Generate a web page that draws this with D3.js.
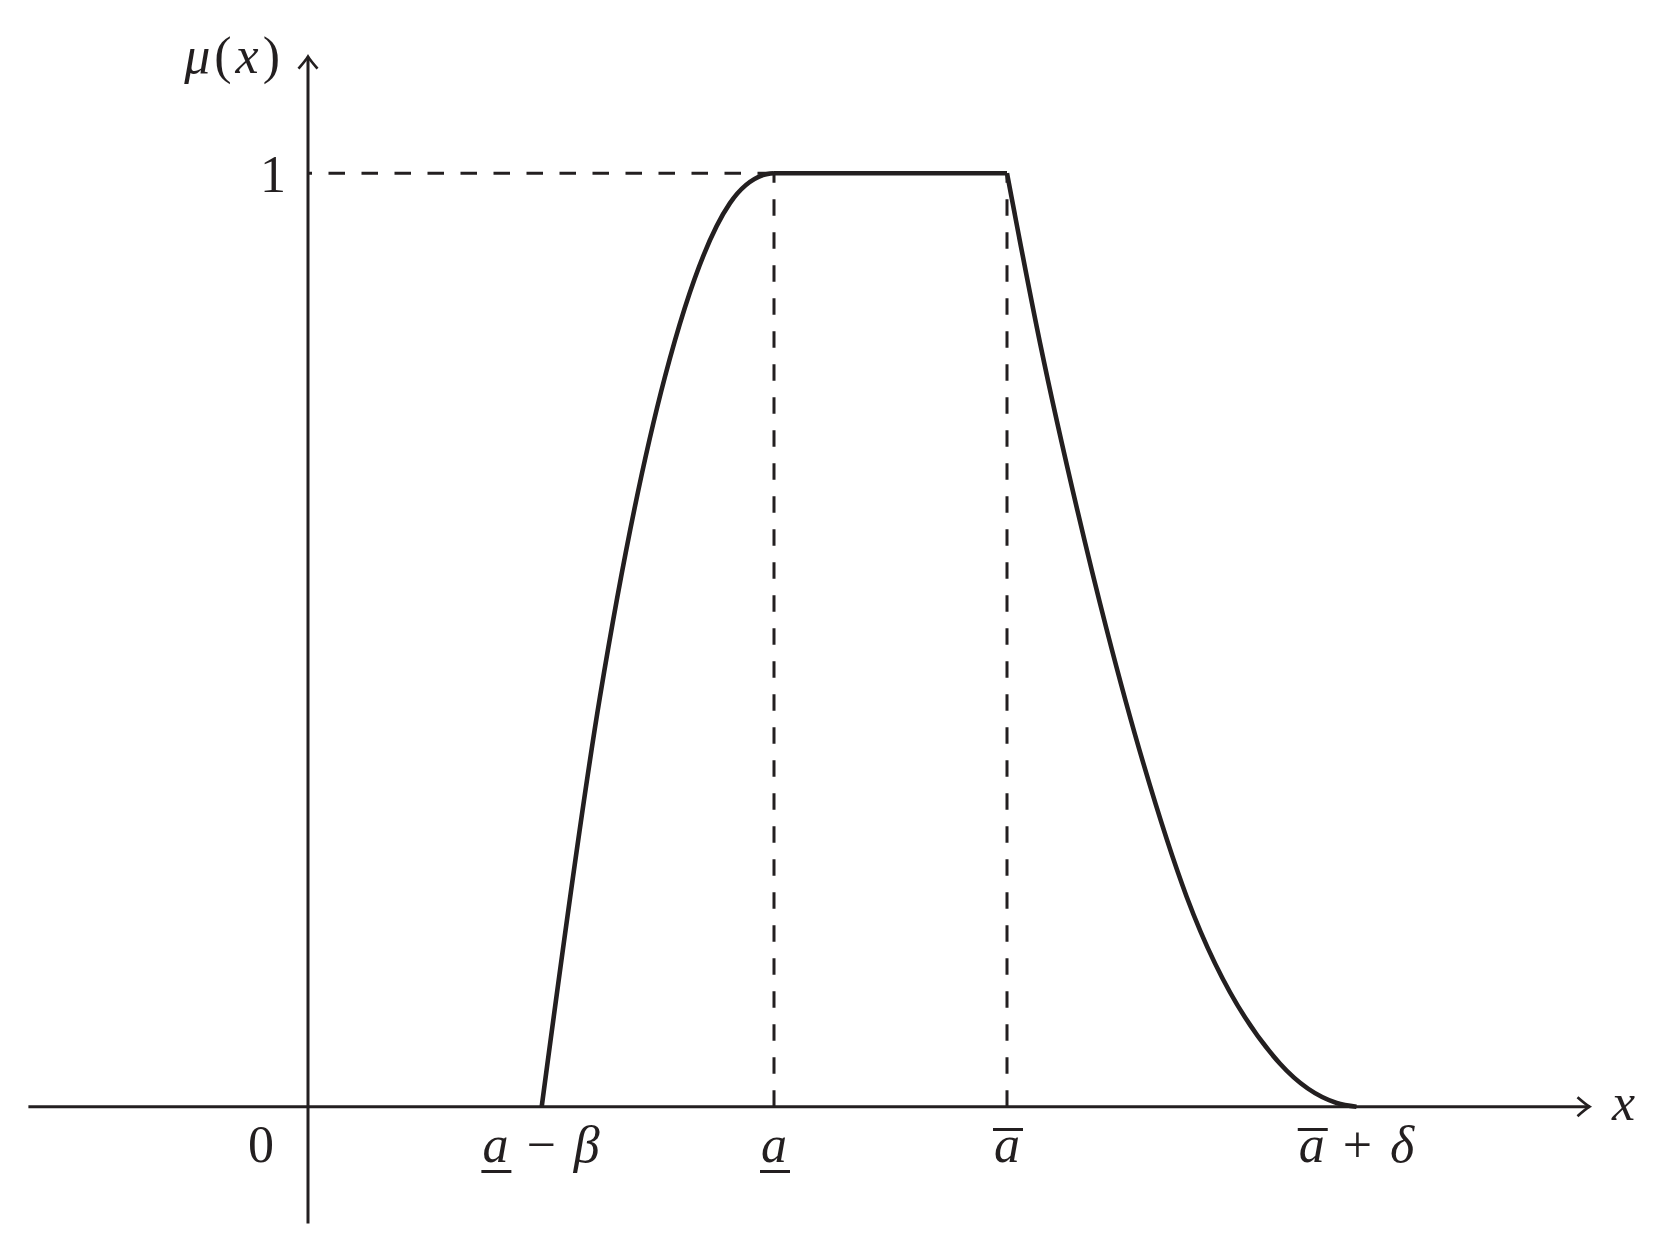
<!DOCTYPE html>
<html>
<head>
<meta charset="utf-8">
<script src="https://cdn.jsdelivr.net/npm/d3@7"></script>
<style>
  body { margin: 0; background: #fff; }
  svg { display: block; }
  text { font-family: "Liberation Serif", "DejaVu Serif", serif; fill: #231f20; }
</style>
</head>
<body>
<div class="graph"></div>
<script>
// values (x in units of the tick spacing, mu in [0,1])
const riseX  = [1.003, 1.253, 1.532, 1.811, 1.953, 2.000];
const riseMu = [0.000, 0.439, 0.782, 0.968, 0.998, 1.000];
const flatX  = [2.00, 3.00];
const flatMu = [1.000, 1.000];
const fallX  = [3.000, 3.142, 3.302, 3.428, 3.585, 3.771, 4.172, 4.415, 4.500];
const fallMu = [1.000, 0.818, 0.639, 0.511, 0.368, 0.225, 0.046, 0.004, 0.000];

const xTickPos  = [1, 2, 3, 4.5];
const xTickText = ["a − β", "a", "a", "a + δ"];
const xTickBar  = ["under", "under", "over", "over"];
const dashX     = [2, 3];          // dashed drop lines
const yTickText = ["0", "1"];

const width = 1665, height = 1260;
const ink = "#231f20";

let svg = d3.select(".graph")
  .append("svg")
  .attr("width", width)
  .attr("height", height);

let x = d3.scaleLinear().domain([-1.2, 5.5]).range([28.4, 1589.5]);
let y = d3.scaleLinear().domain([0, 1]).range([1106.7, 173.3]);

// dashed guides
svg.append("line")
  .attr("x1", x(2)).attr("y1", y(1))
  .attr("x2", x(0)).attr("y2", y(1))
  .attr("stroke", ink).attr("stroke-width", 3)
  .attr("stroke-dasharray", "16.5,16.5");

svg.selectAll(".drop")
  .data(dashX)
  .enter().append("line")
  .attr("class", "drop")
  .attr("x1", d => x(d)).attr("y1", y(0))
  .attr("x2", d => x(d)).attr("y2", y(1))
  .attr("stroke", ink).attr("stroke-width", 3)
  .attr("stroke-dasharray", "16.5,16.5");

// axes
let arrow = "M-12,-9.5 Q-4,-2.5 0,0 Q-4,2.5 -12,9.5";

svg.append("line")
  .attr("x1", x(-1.2)).attr("y1", y(0))
  .attr("x2", x(5.5)).attr("y2", y(0))
  .attr("stroke", ink).attr("stroke-width", 3);
svg.append("path")
  .attr("d", arrow)
  .attr("transform", "translate(" + x(5.5) + "," + y(0) + ")")
  .attr("fill", "none").attr("stroke", ink).attr("stroke-width", 2.7);

svg.append("line")
  .attr("x1", x(0)).attr("y1", y(-0.125))
  .attr("x2", x(0)).attr("y2", y(1.125))
  .attr("stroke", ink).attr("stroke-width", 3);
svg.append("path")
  .attr("d", arrow)
  .attr("transform", "translate(" + x(0) + "," + y(1.125) + ") rotate(-90)")
  .attr("fill", "none").attr("stroke", ink).attr("stroke-width", 2.7);

// membership function
let line = d3.line()
  .x(d => x(d[0]))
  .y(d => y(d[1]))
  .curve(d3.curveMonotoneX);

let parts = [
  d3.zip(riseX, riseMu),
  d3.zip(flatX, flatMu),
  d3.zip(fallX, fallMu)
];

svg.append("path")
  .attr("d", parts.map(p => line(p)).join(""))
  .attr("fill", "none")
  .attr("stroke", ink)
  .attr("stroke-width", 4.6)
  .attr("stroke-linejoin", "miter");

// labels
const fs = 52;

function mathText(sel, str) {
  // letters italic, operators and digits upright
  str.split("").forEach(ch => {
    sel.append("tspan")
      .style("font-style", /[a-zA-Zα-ωμ]/.test(ch) ? "italic" : "normal")
      .text(ch);
  });
}

let yl = svg.append("text")
  .attr("x", 284).attr("y", 73)
  .attr("text-anchor", "end")
  .attr("font-size", fs)
  .attr("letter-spacing", 4);
mathText(yl, "μ(x)");

let xl = svg.append("text")
  .attr("x", 1612).attr("y", 1120)
  .attr("font-size", fs);
mathText(xl, "x");

svg.append("text")
  .attr("x", 274).attr("y", 1162)
  .attr("text-anchor", "end")
  .attr("font-size", fs)
  .text(yTickText[0]);

svg.append("text")
  .attr("x", 286).attr("y", y(1) + 19)
  .attr("text-anchor", "end")
  .attr("font-size", fs)
  .text(yTickText[1]);

xTickPos.forEach((p, i) => {
  let t = svg.append("text")
    .attr("x", x(p)).attr("y", 1162)
    .attr("text-anchor", "middle")
    .attr("font-size", fs)
    .attr("word-spacing", 5);
  mathText(t, xTickText[i]);

  let ext = t.node().getExtentOfChar(0);
  let by = xTickBar[i] === "under" ? 1171.5 : 1129.5;
  svg.append("line")
    .attr("x1", ext.x - 1).attr("x2", ext.x + ext.width + 3)
    .attr("y1", by).attr("y2", by)
    .attr("stroke", ink).attr("stroke-width", 3);
});
</script>
</body>
</html>
